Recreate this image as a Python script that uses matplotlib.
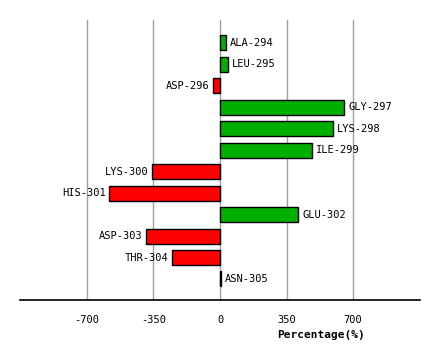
import numpy as np
import matplotlib
matplotlib.use('Agg')
import matplotlib.pyplot as plt

# residues and their percentage values
residues = ['ALA-294', 'LEU-295', 'ASP-296', 'GLY-297', 'LYS-298', 'ILE-299',
            'LYS-300', 'HIS-301', 'GLU-302', 'ASP-303', 'THR-304', 'ASN-305']
values = [30, 40, -35, 654, 596, 486, -356, -582, 412, -388, -251, 3]
ticks = [-700, -350, 0, 350, 700]

fig = plt.figure(figsize=[4.4, 3.6], dpi=100)
ax = fig.add_axes([20 / 440, 60 / 360, 400 / 440, 280 / 360])

ypos = np.arange(len(residues))
colors = ['#00B000' if v > 0 else '#FF0000' for v in values]
ax.barh(ypos, values, height=0.7, color=colors, edgecolor='black', linewidth=1, zorder=3)

# labels next to bar ends
for y, v, name in zip(ypos, values, residues):
    if v >= 0:
        ax.text(v + 20, y, name, ha='left', va='center', family='DejaVu Sans Mono', fontsize=7.5)
    else:
        ax.text(v - 20, y, name, ha='right', va='center', family='DejaVu Sans Mono', fontsize=7.5)

ax.set_xlim(-1052, 1052)
ax.set_ylim(11.98, -1.07)
ax.set_xticks(ticks)
ax.set_xticklabels([str(t) for t in ticks], family='DejaVu Sans Mono', fontsize=7.5)
ax.set_yticks([])
ax.tick_params(axis='x', length=0, pad=11)
ax.grid(axis='x', color='#A0A0A0', linewidth=1, zorder=0)

for s in ['top', 'left', 'right']:
    ax.spines[s].set_visible(False)
ax.spines['bottom'].set_linewidth(1.2)

fig.text(321 / 440, 1 - 335 / 360, 'Percentage(%)', ha='center', va='center',
         family='DejaVu Sans Mono', fontsize=8, weight='bold')

fig.savefig('out.png', dpi=100)
